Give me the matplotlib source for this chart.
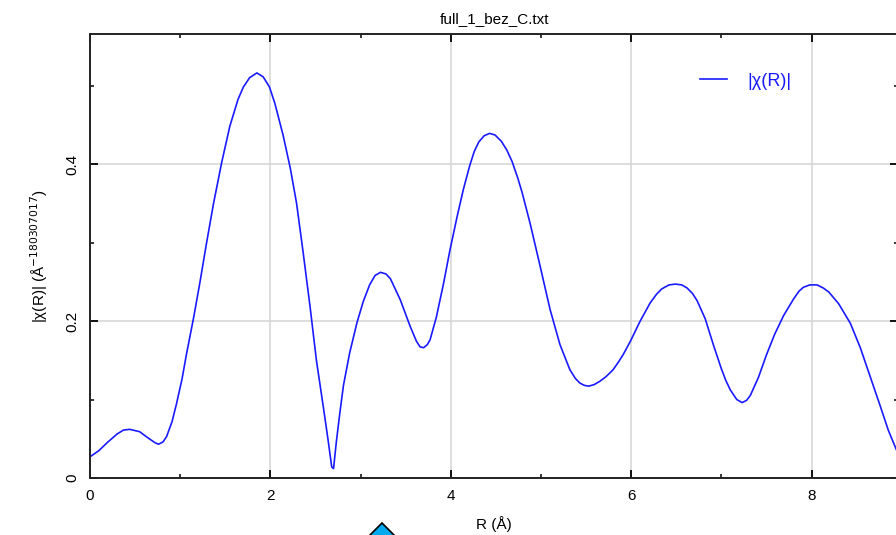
import matplotlib
matplotlib.use('Agg')
import matplotlib.pyplot as plt
from matplotlib.patches import Polygon

# |chi(R)|
r = [0.00, 0.10, 0.19, 0.30, 0.37, 0.44, 0.55, 0.62, 0.67, 0.72, 0.76, 0.81,
     0.85, 0.91, 0.96, 1.02, 1.07, 1.15, 1.22, 1.29, 1.37, 1.46, 1.55, 1.64,
     1.70, 1.77, 1.85, 1.92, 1.99, 2.05, 2.14, 2.22, 2.29, 2.36, 2.44, 2.51,
     2.59, 2.64, 2.68, 2.70, 2.73, 2.77, 2.81, 2.88, 2.96, 3.03, 3.10, 3.16,
     3.22, 3.28, 3.33, 3.44, 3.55, 3.62, 3.66, 3.70, 3.74, 3.77, 3.84, 3.92,
     3.99, 4.07, 4.14, 4.21, 4.26, 4.31, 4.37, 4.43, 4.49, 4.56, 4.62, 4.68,
     4.74, 4.79, 4.88, 4.99, 5.10, 5.21, 5.32, 5.38, 5.43, 5.48, 5.53, 5.59,
     5.65, 5.72, 5.80, 5.86, 5.91, 5.99, 6.10, 6.21, 6.28, 6.34, 6.42, 6.49,
     6.56, 6.62, 6.68, 6.73, 6.82, 6.91, 7.00, 7.05, 7.10, 7.17, 7.23, 7.28,
     7.32, 7.41, 7.50, 7.59, 7.69, 7.80, 7.86, 7.91, 7.98, 8.06, 8.13, 8.19,
     8.30, 8.43, 8.54, 8.65, 8.76, 8.85, 8.94]
chi = [0.027, 0.035, 0.045, 0.056, 0.061, 0.062, 0.059, 0.053, 0.049, 0.045, 0.043, 0.046,
       0.053, 0.072, 0.095, 0.126, 0.158, 0.205, 0.250, 0.298, 0.350, 0.402, 0.448, 0.482,
       0.498, 0.510, 0.516, 0.511, 0.498, 0.477, 0.437, 0.395, 0.350, 0.290, 0.218, 0.150,
       0.088, 0.048, 0.014, 0.012, 0.045, 0.083, 0.118, 0.160, 0.198, 0.225, 0.246, 0.258,
       0.262, 0.260, 0.254, 0.227, 0.193, 0.174, 0.167, 0.166, 0.170, 0.176, 0.205, 0.248,
       0.290, 0.333, 0.368, 0.398, 0.416, 0.428, 0.436, 0.439, 0.437, 0.429, 0.418, 0.403,
       0.383, 0.364, 0.324, 0.270, 0.215, 0.170, 0.138, 0.127, 0.121, 0.118, 0.117, 0.119,
       0.123, 0.129, 0.138, 0.148, 0.157, 0.174, 0.200, 0.223, 0.234, 0.241, 0.246, 0.247,
       0.246, 0.242, 0.235, 0.226, 0.203, 0.170, 0.139, 0.124, 0.112, 0.100, 0.096, 0.099,
       0.105, 0.128, 0.157, 0.183, 0.207, 0.228, 0.238, 0.243, 0.246, 0.246, 0.242, 0.237,
       0.222, 0.197, 0.166, 0.129, 0.092, 0.061, 0.036]

xticks = [0, 2, 4, 6, 8]
yticks = [0, 0.2, 0.4]
ytick_labels = ['0', '0.2', '0.4']

plt.rcParams['font.family'] = ['Liberation Sans', 'DejaVu Sans']

fig = plt.figure(figsize=(8.96, 5.35), dpi=100)
ax = fig.add_axes([90 / 896, 57 / 535, 808 / 896, 444 / 535])

ax.plot(r, chi, color='#1a1aff', linewidth=1.2, label='|χ(R)|')

ax.set_xlim(0, 808 / 90.2)
ax.set_ylim(0, 444 / 785)
ax.set_xticks(xticks)
ax.set_yticks(yticks)
ax.set_yticklabels(ytick_labels, rotation=90, va='center')
ax.set_xticks([1, 3, 5, 7], minor=True)
ax.set_yticks([0.1, 0.3, 0.5], minor=True)
ax.grid(True, which='major', color='#d4d4d4', linewidth=1.1)
ax.tick_params(which='both', direction='in', top=True, right=True, labelsize=11, color='black')
ax.tick_params(which='major', length=6, width=1.3, pad=8)
ax.tick_params(which='minor', length=3, width=1.1)
for s in ax.spines.values():
    s.set_linewidth(1.4)
    s.set_color('#222222')

ax.set_title('full_1_bez_C.txt', fontsize=11, pad=8)
ax.set_xlabel('R (Å)', fontsize=11, labelpad=9)
ax.set_ylabel(r'|χ(R)| (Å$^{-180307017}$)', fontsize=11, labelpad=11)

leg = ax.legend(loc='center left', bbox_to_anchor=(0.735, 0.894), frameon=False,
                fontsize=13, handlelength=1.5, handletextpad=1.1)
for t in leg.get_texts():
    t.set_color('#1a1aff')

# cyan marker at the bottom edge
tri = Polygon([[382 / 896, 1 - 523 / 535], [362 / 896, 1 - 543 / 535], [402 / 896, 1 - 543 / 535]],
              closed=True, transform=fig.transFigure, facecolor='#00aaee',
              edgecolor='black', linewidth=1.2, clip_on=False)
fig.patches.append(tri)

fig.savefig('out.png', dpi=100)
